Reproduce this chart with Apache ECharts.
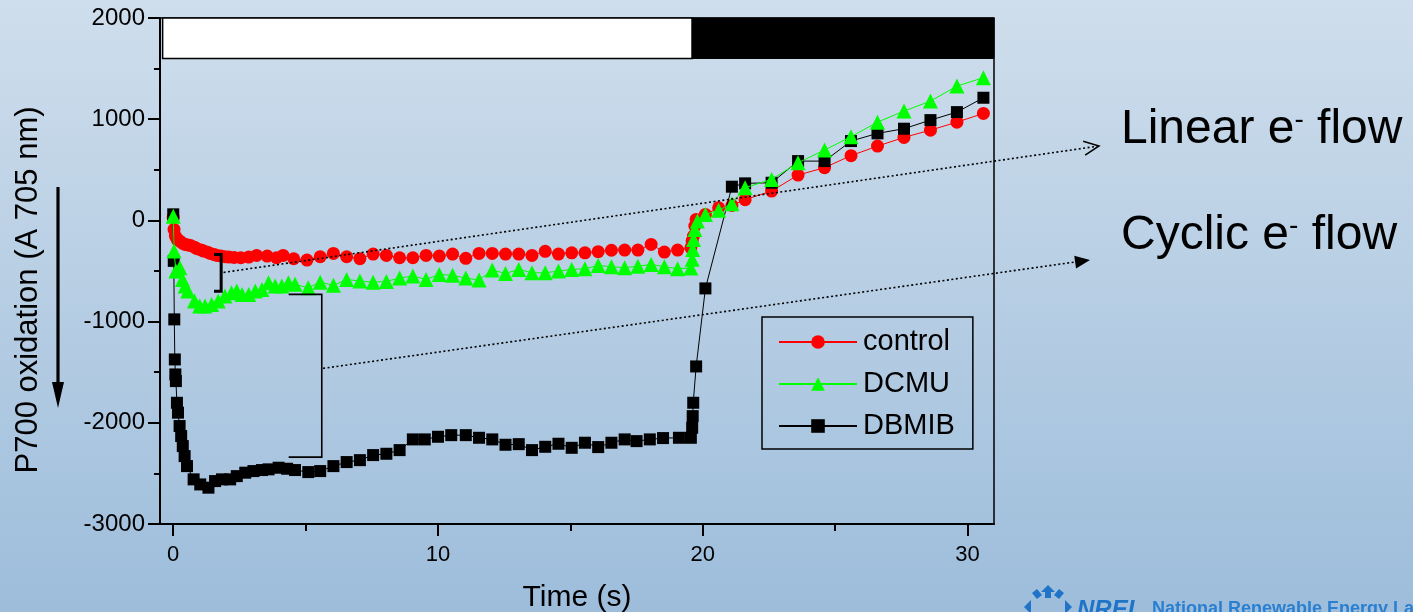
<!DOCTYPE html>
<html><head><meta charset="utf-8">
<script src="https://cdn.jsdelivr.net/npm/echarts@6/dist/echarts.min.js"></script>
<style>html,body{margin:0;padding:0;overflow:hidden;}#c{width:1413px;height:612px;}</style>
</head><body><div id="c"></div>
<script>
// ---- data ----
const xTicks = [0, 10, 20, 30];
const xMinorTicks = [5, 15, 25];
const seriesNames = ['control', 'DCMU', 'DBMIB'];

const controlTime = [0,0.03,0.08,0.15,0.25,0.35,0.45,0.55,0.65,0.8,0.9,1.05,1.15,1.3,1.4,1.55,1.65,1.8,1.95,2.1,2.3,2.55,2.85,3.15,3.55,3.9,4.15,4.55,5.05,5.55,6.05,6.55,7.05,7.55,8.05,8.55,9.05,9.55,10.05,10.55,11.05,11.55,12.05,12.55,13.05,13.55,14.05,14.55,15.05,15.55,16.05,16.55,17.05,17.55,18.05,18.55,19.05,19.55,19.6,19.65,19.7,19.75,20.1,20.6,21.1,21.6,22.6,23.6,24.6,25.6,26.6,27.6,28.6,29.6,30.6];
const controlValue = [30,-89,-155,-190,-204,-225,-237,-242,-247,-265,-280,-292,-303,-315,-326,-338,-346,-352,-359,-362,-366,-369,-362,-346,-353,-369,-346,-379,-392,-359,-326,-359,-378,-333,-346,-369,-369,-346,-353,-333,-375,-326,-326,-333,-333,-346,-306,-333,-320,-320,-309,-295,-293,-293,-237,-313,-293,-270,-200,-155,-56,10,59,125,148,205,290,448,521,640,734,820,892,971,1057];

const dcmuTime = [0,0.03,0.1,0.25,0.35,0.45,0.55,0.8,1.0,1.2,1.45,1.7,1.95,2.2,2.4,2.6,2.85,3.1,3.35,3.6,3.85,4.1,4.35,4.6,5.1,5.55,6.05,6.55,7.05,7.55,8.05,8.55,9.05,9.55,10.05,10.55,11.05,11.55,12.05,12.55,13.05,13.55,14.05,14.55,15.05,15.55,16.05,16.55,17.05,17.55,18.05,18.55,19.05,19.55,19.6,19.62,19.65,19.7,19.8,20.1,20.6,21.1,21.6,22.6,23.6,24.6,25.6,26.6,27.6,28.6,29.6,30.6];
const dcmuValue = [40,-303,-500,-467,-583,-649,-698,-797,-847,-847,-830,-797,-748,-714,-698,-731,-731,-698,-682,-616,-649,-649,-616,-632,-665,-610,-642,-583,-600,-610,-603,-570,-550,-583,-534,-543,-570,-590,-491,-524,-484,-517,-517,-501,-484,-477,-445,-458,-467,-452,-435,-458,-477,-470,-385,-287,-188,-89,-7,59,100,165,323,405,570,695,827,971,1080,1179,1327,1410];

const dbmibTime = [0,0.02,0.04,0.06,0.08,0.1,0.14,0.18,0.24,0.3,0.36,0.43,0.52,0.77,1.02,1.33,1.58,1.84,2.15,2.4,2.72,3.03,3.35,3.6,3.98,4.3,4.6,5.1,5.55,6.05,6.55,7.05,7.55,8.05,8.55,9.05,9.5,10.0,10.5,11.05,11.55,12.05,12.55,13.05,13.55,14.05,14.55,15.05,15.55,16.05,16.55,17.05,17.5,18.0,18.5,19.1,19.55,19.6,19.62,19.64,19.75,20.1,21.1,21.6,22.6,23.6,24.6,25.6,26.6,27.6,28.6,29.6,30.6];
const dbmibValue = [60,-400,-978,-1374,-1522,-1588,-1802,-1900,-2032,-2131,-2230,-2329,-2428,-2559,-2609,-2641,-2576,-2559,-2559,-2527,-2493,-2477,-2467,-2460,-2444,-2454,-2467,-2487,-2477,-2428,-2388,-2369,-2319,-2306,-2270,-2164,-2164,-2138,-2122,-2122,-2148,-2164,-2217,-2211,-2270,-2237,-2207,-2247,-2197,-2240,-2197,-2164,-2181,-2164,-2151,-2148,-2148,-2049,-1934,-1802,-1443,-672,333,366,372,586,586,784,860,906,991,1070,1212];

// light phase bar (time ranges)
const lightPhaseStart = [-0.4, 19.6];
const lightPhaseEnd = [19.6, 31];

// ---- annotation geometry (data space) ----
const smallBracket = { t: 1.81, top: -336, bottom: -699, armT: 0.27 };
const bigBracket = { t: 5.61, top: -731, bottom: -2339, armT: 1.25 };
const linearStart = [1.9, -514];
const cyclicStart = [5.66, -1462];

const zip = (a, b) => a.map((v, i) => [v, b[i]]);
const chart = echarts.init(document.getElementById('c'), null, { renderer: 'canvas' });
const FONT = 'Liberation Sans, Arial, sans-serif';

const option = {
  animation: false,
  backgroundColor: {
    type: 'linear', x: 0, y: 0, x2: 0, y2: 1,
    colorStops: [{ offset: 0, color: '#cfdeec' }, { offset: 1, color: '#9dbddb' }]
  },
  textStyle: { fontFamily: FONT },
  grid: { left: 160, right: 419, top: 18, bottom: 88, containLabel: false, outerBoundsMode: 'none', show: true, borderColor: '#000', borderWidth: 1.5, backgroundColor: 'transparent' },
  legend: {
    data: seriesNames,
    orient: 'vertical', left: 762, top: 317,
    padding: [10, 18, 8, 16],
    itemWidth: 78, itemHeight: 17, itemGap: 12,
    borderColor: '#000', borderWidth: 1.5,
    textStyle: { fontSize: 29, color: '#000', fontFamily: FONT, lineHeight: 30, padding: [0, 0, 0, 1] }
  },
  xAxis: [{
    type: 'value', min: -0.5, max: 31,
    name: 'Time (s)', nameLocation: 'middle', nameGap: 59,
    nameTextStyle: { fontSize: 30, color: '#000', fontFamily: FONT },
    axisLine: { show: true, onZero: false, lineStyle: { color: '#000', width: 2 } },
    axisTick: { show: true, inside: false, length: 12, customValues: xTicks, lineStyle: { color: '#000', width: 2 } },
    axisLabel: { customValues: xTicks, fontSize: 22, color: '#000', margin: 20, fontFamily: FONT },
    splitLine: { show: false }
  }, {
    type: 'value', min: -0.5, max: 31, position: 'bottom',
    axisLine: { show: false, onZero: false },
    axisTick: { show: true, inside: false, length: 7, customValues: xMinorTicks, lineStyle: { color: '#000', width: 2 } },
    axisLabel: { show: false },
    splitLine: { show: false }
  }],
  yAxis: {
    type: 'value', min: -3000, max: 2000, interval: 1000,
    name: 'P700 oxidation (A 705 nm)', nameLocation: 'middle', nameGap: 116,
    nameTextStyle: { fontSize: 31, color: '#000', fontFamily: FONT, padding: [0, 38, 0, 0] },
    axisLine: { show: true, onZero: false, lineStyle: { color: '#000', width: 2 } },
    axisTick: { show: true, inside: false, length: 12, lineStyle: { color: '#000', width: 2 } },
    minorTick: { show: true, splitNumber: 2, length: 6, lineStyle: { color: '#000', width: 2 } },
    axisLabel: { fontSize: 24, color: '#000', margin: 15, fontFamily: FONT, formatter: (v) => String(v) },
    splitLine: { show: false }
  },
  series: [
    {
      name: 'control', type: 'line', z: 2, data: zip(controlTime, controlValue),
      symbol: 'circle', symbolSize: 13,
      lineStyle: { color: '#ff0000', width: 1 }, itemStyle: { color: '#ff0000' },
      markArea: {
        silent: true,
        data: lightPhaseStart.map((s, i) => [
          { coord: [s, 2000], itemStyle: i === 0 ? { color: '#ffffff', borderColor: '#000', borderWidth: 1.5 } : { color: '#000000', borderColor: '#000', borderWidth: 1 } },
          { coord: [lightPhaseEnd[i], 1600] }
        ])
      }
    },
    {
      name: 'DCMU', type: 'line', z: 4, data: zip(dcmuTime, dcmuValue),
      symbol: 'triangle', symbolSize: 15,
      lineStyle: { color: '#00ff00', width: 1 }, itemStyle: { color: '#00ff00' }
    },
    {
      name: 'DBMIB', type: 'line', z: 3, data: zip(dbmibTime, dbmibValue),
      symbol: 'rect', symbolSize: 12,
      lineStyle: { color: '#000000', width: 1 }, itemStyle: { color: '#000000' }
    }
  ]
};
chart.setOption(option);

// ---- annotations ----
const px = (p) => chart.convertToPixel({ seriesIndex: 0 }, p);
function bracket(b, w) {
  const a = px([b.t - b.armT, b.top]), c = px([b.t, b.top]), d = px([b.t, b.bottom]), e = px([b.t - b.armT, b.bottom]);
  return { type: 'polyline', z: 100, shape: { points: [a, c, d, e] }, style: { stroke: '#000', lineWidth: w, fill: null } };
}
function arrowHead(start, tip, len, hw, filled) {
  const dx = tip[0] - start[0], dy = tip[1] - start[1], L = Math.hypot(dx, dy);
  const ux = dx / L, uy = dy / L, nx = -uy, ny = ux;
  const b = [tip[0] - ux * len, tip[1] - uy * len];
  const p1 = [b[0] + nx * hw, b[1] + ny * hw], p2 = [b[0] - nx * hw, b[1] - ny * hw];
  return filled
    ? { type: 'polygon', z: 100, shape: { points: [p1, tip, p2] }, style: { fill: '#000' } }
    : { type: 'polyline', z: 100, shape: { points: [p1, tip, p2] }, style: { stroke: '#000', lineWidth: 1.5, fill: null } };
}
const ls = px(linearStart), cs = px(cyclicStart);
const linearTip = [1099, 146], cyclicTip = [1090, 260];
const dotted = { stroke: '#000', lineWidth: 1.6, lineDash: [2, 2.5] };
const graphics = [
  bracket(smallBracket, 3),
  bracket(bigBracket, 1.6),
  { type: 'line', z: 100, shape: { x1: ls[0], y1: ls[1], x2: linearTip[0] - 2, y2: linearTip[1] + 0.3 }, style: dotted },
  arrowHead(ls, linearTip, 15, 7, false),
  { type: 'line', z: 100, shape: { x1: cs[0], y1: cs[1], x2: cyclicTip[0] - 8, y2: cyclicTip[1] + 1 }, style: dotted },
  arrowHead(cs, cyclicTip, 15, 6.5, true),
  {
    type: 'text', z: 100, x: 1121, y: 130,
    style: { text: '{a|Linear e}{s|-}{a| flow}', verticalAlign: 'middle', fill: '#000',
      rich: { a: { fontSize: 48, fontFamily: FONT, fill: '#000' }, s: { fontSize: 28, fontFamily: FONT, fill: '#000', verticalAlign: 'top', padding: [0, 0, 14, 0] } } }
  },
  {
    type: 'text', z: 100, x: 1121, y: 236,
    style: { text: '{a|Cyclic e}{s|-}{a| flow}', verticalAlign: 'middle', fill: '#000',
      rich: { a: { fontSize: 48, fontFamily: FONT, fill: '#000' }, s: { fontSize: 28, fontFamily: FONT, fill: '#000', verticalAlign: 'top', padding: [0, 0, 14, 0] } } }
  },
  // down arrow beside y-axis title
  { type: 'line', z: 100, shape: { x1: 58, y1: 187, x2: 58, y2: 386 }, style: { stroke: '#000', lineWidth: 3.2 } },
  { type: 'polygon', z: 100, shape: { points: [[52, 382], [64, 382], [58, 408]] }, style: { fill: '#000' } },
  // NREL logo (approximation)
  { type: 'polygon', z: 100, shape: { points: [[1048, 585], [1041, 592], [1045, 592], [1045, 598], [1051, 598], [1051, 592], [1055, 592]] }, style: { fill: '#1f74c8' } },
  { type: 'polygon', z: 100, shape: { points: [[1032, 593], [1037, 589], [1042, 595], [1037, 599]] }, style: { fill: '#1f74c8' } },
  { type: 'polygon', z: 100, shape: { points: [[1064, 593], [1059, 589], [1054, 595], [1059, 599]] }, style: { fill: '#1f74c8' } },
  { type: 'polygon', z: 100, shape: { points: [[1024, 607], [1031, 600], [1031, 614]] }, style: { fill: '#1f74c8' } },
  { type: 'polygon', z: 100, shape: { points: [[1072, 607], [1065, 600], [1065, 614]] }, style: { fill: '#1f74c8' } },
  { type: 'text', z: 100, x: 1077, y: 598, style: { text: 'NREL', font: 'italic bold 24px ' + FONT, fill: '#1f74c8', verticalAlign: 'top' } },
  { type: 'text', z: 100, x: 1152, y: 600, style: { text: 'National Renewable Energy Laboratory', font: 'bold 18px ' + FONT, fill: '#2a7fd0', verticalAlign: 'top' } }
];
chart.setOption({ graphic: graphics });
</script>
</body></html>
